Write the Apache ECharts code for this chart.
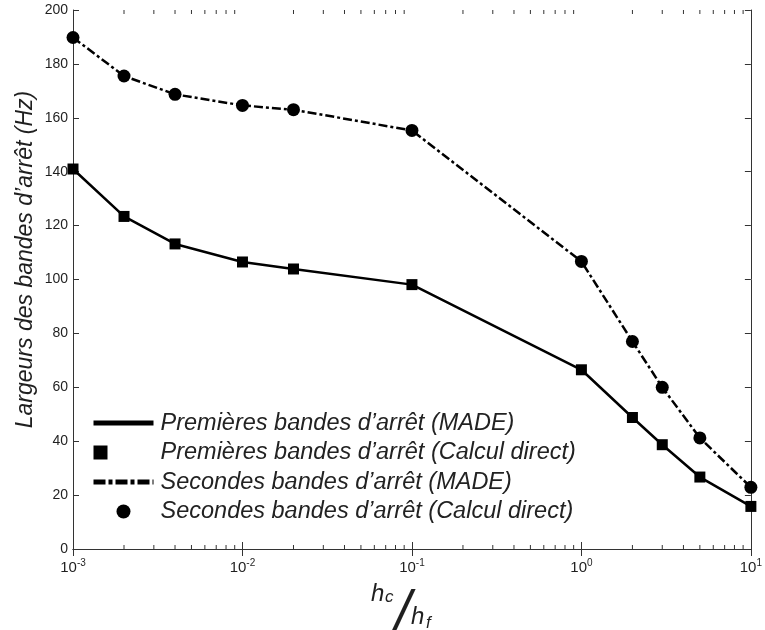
<!DOCTYPE html>
<html><head><meta charset="utf-8">
<script src="https://cdn.jsdelivr.net/npm/echarts@6/dist/echarts.min.js"></script>
<style>html,body{margin:0;padding:0;background:#fff}#c{width:765px;height:630px}</style>
</head><body><div id="c"></div>
<script>
// ---- data ----
const ratioValues = [0.001, 0.002, 0.004, 0.01, 0.02, 0.1, 1, 2, 3, 5, 10];
const firstBandMADE = [141, 123.4, 113.2, 106.5, 103.9, 98.1, 66.5, 48.8, 38.7, 26.7, 15.8];
const firstBandDirect = [141, 123.4, 113.2, 106.5, 103.9, 98.1, 66.5, 48.8, 38.7, 26.7, 15.8];
const secondBandMADE = [189.8, 175.5, 168.7, 164.6, 163.0, 155.3, 106.7, 77.0, 60.0, 41.2, 22.9];
const secondBandDirect = [189.8, 175.5, 168.7, 164.6, 163.0, 155.3, 106.7, 77.0, 60.0, 41.2, 22.9];
const seriesNames = [
  'Premières bandes d\u2019arrêt (MADE)',
  'Premières bandes d\u2019arrêt (Calcul direct)',
  'Secondes bandes d\u2019arrêt (MADE)',
  'Secondes bandes d\u2019arrêt (Calcul direct)'
];
const yAxisTitle = 'Largeurs des bandes d\u2019arrêt (Hz)';
const xMinorTicks = [
  0.002, 0.003, 0.004, 0.005, 0.006, 0.007, 0.008, 0.009,
  0.02, 0.03, 0.04, 0.05, 0.06, 0.07, 0.08, 0.09,
  0.2, 0.3, 0.4, 0.5, 0.6, 0.7, 0.8, 0.9,
  2, 3, 4, 5, 6, 7, 8, 9
];

const pairs = (ys) => ratioValues.map((x, i) => [x, ys[i]]);
const FONT = '"Liberation Sans", Arial, sans-serif';
const INK = '#1f1f1f';

const chart = echarts.init(document.getElementById('c'), null, {renderer: 'canvas'});

const axisLineStyle = {color: '#333', width: 1};

chart.setOption({
  animation: false,
  backgroundColor: '#fff',
  grid: {left: 73, right: 7, top: 10, bottom: 81, containLabel: false},
  xAxis: [{
    type: 'log', logBase: 10, min: 0.001, max: 10, splitNumber: 4,
    axisLine: {show: true, lineStyle: axisLineStyle},
    axisTick: {show: true, inside: true, length: 7, lineStyle: axisLineStyle},
    splitLine: {show: false},
    axisLabel: {
      margin: 9,
      formatter: (v) => '{b|10}{s|' + Math.round(Math.log10(v)) + '}',
      rich: {
        b: {fontFamily: FONT, fontSize: 15, color: INK},
        s: {fontFamily: FONT, fontSize: 10, color: INK, padding: [0, 0, 10, 0]}
      }
    }
  }, {
    type: 'log', logBase: 10, min: 0.001, max: 10, splitNumber: 4, position: 'top',
    axisLine: {show: true, lineStyle: axisLineStyle},
    axisTick: {show: true, inside: true, length: 7, lineStyle: axisLineStyle},
    axisLabel: {show: false}, splitLine: {show: false}
  }],
  yAxis: [{
    type: 'value', min: 0, max: 200, interval: 20,
    name: yAxisTitle, nameLocation: 'middle', nameGap: 36, nameMoveOverlap: false,
    nameTextStyle: {fontFamily: FONT, fontSize: 23, fontStyle: 'italic', color: INK, padding: [0, 0, 0, 40]},
    axisLine: {show: true, lineStyle: axisLineStyle},
    axisTick: {show: true, inside: true, length: 6, lineStyle: axisLineStyle},
    splitLine: {show: false},
    axisLabel: {fontFamily: FONT, fontSize: 14, color: INK, margin: 5}
  }, {
    type: 'value', min: 0, max: 200, interval: 20, position: 'right',
    axisLine: {show: true, lineStyle: axisLineStyle},
    axisTick: {show: true, inside: true, length: 6, lineStyle: axisLineStyle},
    axisLabel: {show: false}, splitLine: {show: false}
  }],
  legend: {
    orient: 'vertical', left: 91, top: 411, padding: 0,
    itemWidth: 60, itemHeight: 14, itemGap: 5.5,
    textStyle: {fontFamily: FONT, fontSize: 23.5, fontStyle: 'italic', color: '#222', lineHeight: 24, padding: [0, 0, 0, 2]},
    data: [
      {name: seriesNames[0], lineStyle: {width: 5}, itemStyle: {opacity: 0}},
      {name: seriesNames[1], icon: 'square'},
      {name: seriesNames[2], lineStyle: {width: 5, type: [12, 3, 4, 3]}, itemStyle: {opacity: 0}},
      {name: seriesNames[3], icon: 'circle'}
    ]
  },
  series: [
    {
      name: seriesNames[0], type: 'line', data: pairs(firstBandMADE),
      symbol: 'none', lineStyle: {color: '#000', width: 2.5}, itemStyle: {color: '#000'}, z: 3
    },
    {
      name: seriesNames[1], type: 'scatter', data: pairs(firstBandDirect),
      symbol: 'square', symbolSize: 11, itemStyle: {color: '#000', opacity: 1}, z: 4
    },
    {
      name: seriesNames[2], type: 'line', data: pairs(secondBandMADE),
      symbol: 'none', lineStyle: {color: '#000', width: 2.5, type: [9, 3, 3, 3]}, itemStyle: {color: '#000'}, z: 3
    },
    {
      name: seriesNames[3], type: 'scatter', data: pairs(secondBandDirect),
      symbol: 'circle', symbolSize: 13, itemStyle: {color: '#000', opacity: 1}, z: 4
    },
    {
      name: 'minorTicks', type: 'custom', silent: true, z: 2,
      data: xMinorTicks.map(v => [v, 0]),
      renderItem: (params, api) => {
        const x = api.coord([api.value(0), 0])[0];
        const cs = params.coordSys;
        const yb = cs.y + cs.height, yt = cs.y;
        return {type: 'group', children: [
          {type: 'line', shape: {x1: x, y1: yb, x2: x, y2: yb - 4}, style: {stroke: '#333', lineWidth: 1}},
          {type: 'line', shape: {x1: x, y1: yt, x2: x, y2: yt + 4}, style: {stroke: '#333', lineWidth: 1}}
        ]};
      }
    }
  ],
  graphic: [
    {type: 'text', x: 371, y: 594, style: {text: 'h', font: 'italic 24px ' + FONT, fill: INK, verticalAlign: 'middle'}},
    {type: 'text', x: 385, y: 597, style: {text: 'c', font: 'italic 17px ' + FONT, fill: INK, verticalAlign: 'middle'}},
    {type: 'text', x: 403, y: 613, style: {text: '/', font: 'italic 56px ' + FONT, fill: INK, align: 'center', verticalAlign: 'middle'}},
    {type: 'text', x: 411, y: 617, style: {text: 'h', font: 'italic 24px ' + FONT, fill: INK, verticalAlign: 'middle'}},
    {type: 'text', x: 426, y: 623, style: {text: 'f', font: 'italic 17px ' + FONT, fill: INK, verticalAlign: 'middle'}}
  ]
});
</script>
</body></html>
